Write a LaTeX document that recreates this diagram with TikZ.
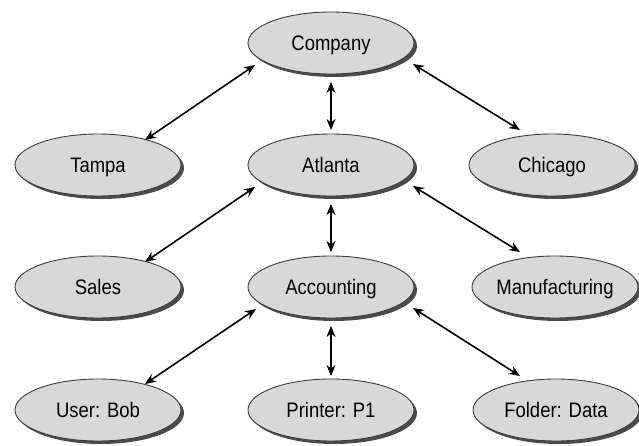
\documentclass[tikz,border=0pt]{standalone}
\usepackage{fontspec}
\setmainfont{Liberation Sans}[FakeStretch=0.88]
\usetikzlibrary{shapes.geometric,arrows.meta,shadows}
\definecolor{bubble}{RGB}{216,216,216}
\definecolor{rim}{RGB}{60,60,60}
\definecolor{shade}{RGB}{75,75,75}
\begin{document}
\begin{tikzpicture}[x=1pt,y=-1pt,
  entity/.style={ellipse, draw=rim, line width=0.9pt, fill=bubble,
    minimum width=166pt, minimum height=62pt, inner sep=0pt,
    text depth=0pt, font=\fontsize{21}{25}\selectfont,
    drop shadow={shadow xshift=3pt, shadow yshift=-3pt, fill=shade, opacity=1}},
  link/.style={line width=1.6pt,
    {Stealth[length=11pt,width=9pt]}-{Stealth[length=11pt,width=9pt]}}]
\useasboundingbox (0,0) rectangle (639,446);

% hierarchy levels
\node[entity] (company) at (331,43) {Company};
\node[entity] (tampa) at (98,165) {Tampa};
\node[entity] (atlanta) at (331,165) {Atlanta};
\node[entity] (chicago) at (552,165) {Chicago};
\node[entity] (sales) at (98,287) {Sales};
\node[entity] (accounting) at (331,287) {Accounting};
\node[entity] (manufacturing) at (555,287) {Manufacturing};
\node[entity] (bob) at (98,410) {User: Bob};
\node[entity] (printer) at (331,410) {Printer: P1};
\node[entity] (folder) at (556,410) {Folder: Data};

% links between levels
\draw[link] ([shift={(-76,22)}]company.center) -- ([shift={(47,-25)}]tampa.center);
\draw[link] ([shift={(0,39)}]company.center) -- ([shift={(0,-35)}]atlanta.center);
\draw[link] ([shift={(82,21)}]company.center) -- ([shift={(-32,-35)}]chicago.center);

\draw[link] ([shift={(-76,22)}]atlanta.center) -- ([shift={(47,-25)}]sales.center);
\draw[link] ([shift={(0,39)}]atlanta.center) -- ([shift={(0,-35)}]accounting.center);
\draw[link] ([shift={(82,21)}]atlanta.center) -- ([shift={(-35,-35)}]manufacturing.center);

\draw[link] ([shift={(-75,22)}]accounting.center) -- ([shift={(47,-26)}]bob.center);
\draw[link] ([shift={(0,39)}]accounting.center) -- ([shift={(0,-34)}]printer.center);
\draw[link] ([shift={(82,21)}]accounting.center) -- ([shift={(-36,-34)}]folder.center);
\end{tikzpicture}
\end{document}
